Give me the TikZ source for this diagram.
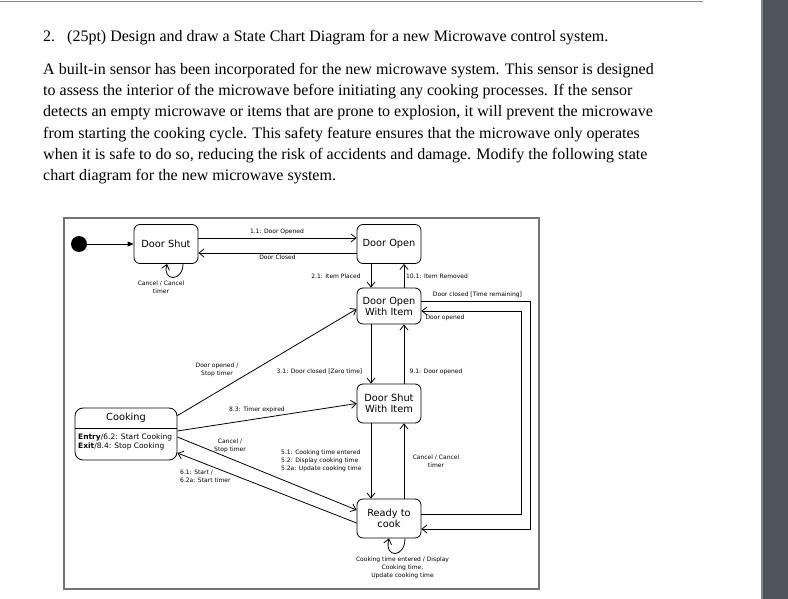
\documentclass[tikz,border=0pt]{standalone}
\usepackage{fontspec}
\setmainfont{Liberation Serif}
\newfontfamily\diagfont{DejaVu Sans}
\usetikzlibrary{arrows.meta}
\definecolor{framegray}{RGB}{115,115,115}
\definecolor{sidebar}{RGB}{80,84,95}
\definecolor{rulegray}{RGB}{135,135,135}
\newcommand{\statefont}{\diagfont\fontsize{9.8}{11}\selectfont}
\newcommand{\lblfont}{\diagfont\fontsize{6}{8}\selectfont}
\newcommand{\bodyfont}{\diagfont\fontsize{7.5}{9}\selectfont}
\newcommand{\parafont}{\fontsize{16}{21}\selectfont}
\tikzset{
  state/.style={draw, rounded corners=6pt, minimum width=64pt, align=center, inner sep=2pt, line width=0.8pt, font=\statefont},
  lbl/.style={font=\lblfont, align=center, inner sep=0pt},
  trans/.style={-{Straight Barb[length=5pt,width=8pt]}, line width=0.8pt},
  para/.style={anchor=base west, inner sep=0pt, font=\parafont}
}
\begin{document}
\begin{tikzpicture}[x=1pt,y=-1pt]
\useasboundingbox (0,0) rectangle (788,599);
\fill[sidebar] (762,0) rectangle (788,599);
\draw[rulegray, line width=1.5pt] (762,0) -- (762,599);
\draw[rulegray, line width=1.5pt] (0,1.5) -- (703,1.5);

\node[para] (qnum) at (43,42) {2.};
\node[para] (qtitle) at (67,42) {(25pt) Design and draw a State Chart Diagram for a new Microwave control system.};
\node[para] (p1) at (43,74.5) {A built-in sensor has been incorporated for the new microwave system. This sensor is designed};
\node[para] (p2) at (43,95.7) {to assess the interior of the microwave before initiating any cooking processes. If the sensor};
\node[para] (p3) at (43,116.9) {detects an empty microwave or items that are prone to explosion, it will prevent the microwave};
\node[para] (p4) at (43,138.1) {from starting the cooking cycle. This safety feature ensures that the microwave only operates};
\node[para] (p5) at (43,159.3) {when it is safe to do so, reducing the risk of accidents and damage. Modify the following state};
\node[para] (p6) at (43,180.5) {chart diagram for the new microwave system.};

\draw[framegray, line width=2.5pt] (64,218) rectangle (539,589);

\node[circle, fill, minimum size=16pt, inner sep=0pt] (init) at (79,244) {};
\node[state, minimum height=39pt] (ds) at (166,244) {Door Shut};
\node[state, minimum height=39pt] (do) at (389,244) {Door Open};
\node[state, minimum height=36pt] (dowi) at (389,306) {Door Open\\With Item};
\node[state, minimum height=39pt] (dswi) at (389,403.5) {Door Shut\\With Item};
\node[state, minimum height=39pt] (ready) at (389,518.5) {Ready to\\cook};

\node[state, minimum width=102pt, minimum height=52pt, rounded corners=8pt] (cook) at (126,434) {};
\node[font=\statefont, minimum height=20pt, inner sep=0pt] (cooktitle) at (126,418) {Cooking};
\draw[line width=0.8pt] (cook.west |- cooktitle.south) -- (cook.east |- cooktitle.south);
\node[font=\bodyfont, align=left, anchor=west, inner sep=0pt] (cookbody) at (78,441.5) {\textbf{Entry}/6.2: Start Cooking\\\textbf{Exit}/8.4: Stop Cooking};

\draw[-{Triangle[length=6pt,width=5pt]}, line width=0.8pt] (init) -- (ds.west);
\draw[trans] ([yshift=6pt]ds.east) -- ([yshift=6pt]do.west);
\draw[trans] ([yshift=-9pt]do.west) -- ([yshift=-9pt]ds.east);
\draw[trans] ([xshift=17pt]ds.south) .. controls +(0,18) and +(-5,18) .. ([xshift=1pt]ds.south);

\draw[trans] ([xshift=-18pt]do.south) -- ([xshift=-18pt]dowi.north);
\draw[trans] ([xshift=15pt]dowi.north) -- ([xshift=15pt]do.south);
\draw[trans] ([xshift=-18pt]dowi.south) -- ([xshift=-18pt]dswi.north);
\draw[trans] ([xshift=15pt]dswi.north) -- ([xshift=15pt]dowi.south);
\draw[trans] ([xshift=-18pt]dswi.south) -- ([xshift=-18pt]ready.north);
\draw[trans] ([xshift=15pt]ready.north) -- ([xshift=15pt]dswi.south);
\draw[trans] ([xshift=16pt]ready.south) .. controls +(0,20) and +(-5,20) .. (ready.south);

\draw[trans] ([yshift=5pt]dowi.east) -- ++(109,0) |- ([yshift=-10.5pt]ready.east);
\draw[trans] ([yshift=4.5pt]ready.east) -- ++(100,0) |- ([yshift=-5pt]dowi.east);

\draw[trans] ([yshift=-8pt]cook.north east) -- ([yshift=-3pt]dowi.west);
\draw[trans] ([yshift=3pt]cook.east) -- (dswi.west);
\draw[trans] ([yshift=-3pt]cook.east) -- ([yshift=8.5pt]ready.west);
\draw[trans] ([yshift=-4.5pt]ready.west) -- ([yshift=-19pt]cook.east);

\node[lbl] (l11) at (277,232) {1.1: Door Opened};
\node[lbl] (lclosed) at (277.5,257) {Door Closed};
\node[lbl] (lcancel1) at (161,287) {Cancel / Cancel\\timer};
\node[lbl] (l21) at (336,276) {2.1: Item Placed};
\node[lbl] (l101) at (437,276) {10.1: Item Removed};
\node[lbl] (lremain) at (477.5,295) {Door closed [Time remaining]};
\node[lbl] (lopened) at (445,318) {Door opened};
\node[lbl] (lstop1) at (217,370) {Door opened /\\Stop timer};
\node[lbl] (l31) at (319.5,372) {3.1: Door closed [Zero time]};
\node[lbl] (l91) at (436,372) {9.1: Door opened};
\node[lbl] (l83) at (257,410) {8.3: Timer expired};
\node[lbl] (lstop2) at (230,445.5) {Cancel /\\Stop timer};
\node[lbl, align=left, anchor=west] (l51) at (281,461) {5.1: Cooking time entered\\5.2: Display cooking time\\5.2a: Update cooking time};
\node[lbl] (lcancel2) at (436,461.5) {Cancel / Cancel\\timer};
\node[lbl, align=left, anchor=west] (l61) at (180,476.5) {6.1: Start /\\6.2a: Start timer};
\node[lbl] (lentered) at (402.5,567.5) {Cooking time entered / Display\\Cooking time,\\Update cooking time};
\end{tikzpicture}
\end{document}
